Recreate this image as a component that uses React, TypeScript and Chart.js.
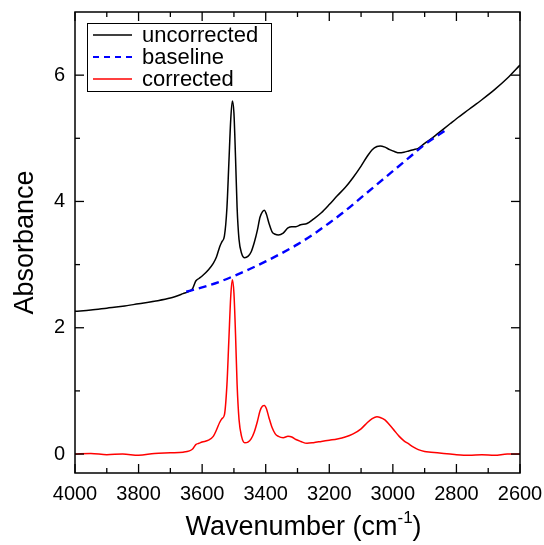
import React, { useEffect, useRef } from "react";
import { Chart, registerables } from "chart.js";

Chart.register(...registerables);

const wavenumbers = [
  4000, 3950, 3900, 3850, 3800, 3750, 3700, 3660, 3640, 3630, 3620, 3610, 3600, 3580, 3565, 3555, 3545, 3538, 3530, 3522,
  3516, 3510, 3505, 3500, 3495, 3490, 3484, 3476, 3466, 3456, 3446, 3436, 3426, 3418, 3410, 3404, 3398, 3390, 3380, 3370,
  3360, 3345, 3330, 3318, 3305, 3290, 3270, 3250, 3225, 3200, 3175, 3150, 3125, 3100, 3080, 3065, 3050, 3040, 3025, 3010,
  2995, 2980, 2965, 2950, 2935, 2920, 2900, 2880, 2860, 2840, 2820, 2800, 2760, 2720, 2680, 2640, 2600,
];

const uncorrected = [
  2.26, 2.28, 2.31, 2.34, 2.38, 2.42, 2.47, 2.54, 2.58, 2.62, 2.74, 2.78, 2.82, 2.92, 3.02, 3.12, 3.28, 3.36, 3.45, 3.9,
  4.6, 5.3, 5.59, 5.4, 4.7, 3.9, 3.4, 3.18, 3.11, 3.13, 3.2, 3.35, 3.55, 3.75, 3.84, 3.86, 3.8, 3.66, 3.52, 3.48,
  3.47, 3.5, 3.58, 3.6, 3.6, 3.63, 3.65, 3.72, 3.82, 3.95, 4.09, 4.22, 4.38, 4.56, 4.72, 4.82, 4.87, 4.88, 4.86, 4.82,
  4.79, 4.77, 4.78, 4.8, 4.82, 4.84, 4.92, 4.99, 5.07, 5.15, 5.23, 5.31, 5.46, 5.61, 5.77, 5.95, 6.16,
];

const corrected = [
  0.0, 0.01, -0.01, 0.0, -0.02, 0.01, 0.02, 0.03, 0.05, 0.08, 0.15, 0.17, 0.19, 0.22, 0.28, 0.38, 0.5, 0.56, 0.62, 1.1,
  1.8, 2.5, 2.76, 2.55, 1.9, 1.1, 0.55, 0.28, 0.18, 0.19, 0.24, 0.35, 0.52, 0.68, 0.76, 0.77, 0.72, 0.58, 0.42, 0.32,
  0.28, 0.26, 0.28, 0.27, 0.23, 0.2, 0.17, 0.18, 0.2, 0.22, 0.24, 0.27, 0.32, 0.4, 0.5, 0.56, 0.59, 0.58, 0.54, 0.46,
  0.37, 0.28, 0.21, 0.16, 0.11, 0.07, 0.04, 0.03, 0.02, 0.01, 0.0, -0.01, -0.02, -0.01, -0.02, 0.0, 0.0,
];

const baselineWavenumbers = [
  3650, 3600, 3550, 3500, 3450, 3400, 3350, 3300, 3250, 3200, 3150, 3100, 3050, 3000, 2950, 2900, 2860, 2830,
];
const baseline = [
  2.57, 2.64, 2.72, 2.82, 2.93, 3.05, 3.18, 3.32, 3.48, 3.66, 3.85, 4.06, 4.27, 4.48, 4.69, 4.9, 5.04, 5.14,
];

const xMajorTicks = [4000, 3800, 3600, 3400, 3200, 3000, 2800, 2600];
const xMinorTicks = [3900, 3700, 3500, 3300, 3100, 2900, 2700];
const yMajorTicks = [0, 2, 4, 6];
const yMinorTicks = [1, 3, 5];

const seriesNames = ["uncorrected", "baseline", "corrected"];
const seriesColors = ["#000000", "#0000ff", "#ff0000"];

const FONT = "Arial, 'Liberation Sans', sans-serif";

const framePlugin = {
  id: "frameAndLegend",
  afterDraw(chart: any) {
    const { ctx, chartArea } = chart;
    const { left, right, top, bottom } = chartArea;
    const xs = chart.scales.x;
    const ys = chart.scales.y;
    ctx.save();
    ctx.strokeStyle = "#000";
    ctx.lineWidth = 1.5;
    ctx.strokeRect(left, top, right - left, bottom - top);
    ctx.lineWidth = 1.3;
    const tick = (x1: number, y1: number, x2: number, y2: number) => {
      ctx.beginPath();
      ctx.moveTo(x1, y1);
      ctx.lineTo(x2, y2);
      ctx.stroke();
    };
    xMajorTicks.forEach((v) => {
      const px = xs.getPixelForValue(v);
      tick(px, bottom, px, bottom - 9);
      tick(px, top, px, top + 9);
    });
    xMinorTicks.forEach((v) => {
      const px = xs.getPixelForValue(v);
      tick(px, bottom, px, bottom - 5);
      tick(px, top, px, top + 5);
    });
    yMajorTicks.forEach((v) => {
      const py = ys.getPixelForValue(v);
      tick(left, py, left + 9, py);
      tick(right, py, right - 9, py);
    });
    yMinorTicks.forEach((v) => {
      const py = ys.getPixelForValue(v);
      tick(left, py, left + 5, py);
      tick(right, py, right - 5, py);
    });

    // legend
    const lx = left + 12;
    const ly = top + 11;
    const lw = 184;
    const lh = 68;
    ctx.fillStyle = "#fff";
    ctx.fillRect(lx, ly, lw, lh);
    ctx.lineWidth = 1;
    ctx.strokeStyle = "#000";
    ctx.strokeRect(lx + 0.5, ly + 0.5, lw, lh);
    ctx.font = `22px ${FONT}`;
    ctx.textBaseline = "middle";
    ctx.textAlign = "left";
    seriesNames.forEach((name, i) => {
      const yy = ly + 12 + i * 22;
      ctx.strokeStyle = seriesColors[i];
      ctx.lineWidth = i === 1 ? 2 : 1.5;
      ctx.setLineDash(i === 1 ? [6, 5] : []);
      ctx.beginPath();
      ctx.moveTo(lx + 6, yy);
      ctx.lineTo(lx + 45, yy);
      ctx.stroke();
      ctx.setLineDash([]);
      ctx.fillStyle = "#000";
      ctx.fillText(name, lx + 55, yy + 1);
    });

    // x title with superscript
    const cx = (left + right) / 2 + 6;
    const baseY = 535;
    ctx.font = `27px ${FONT}`;
    const main = "Wavenumber (cm";
    const sup = "-1";
    const close = ")";
    const wMain = ctx.measureText(main).width;
    const wClose = ctx.measureText(close).width;
    ctx.font = `17px ${FONT}`;
    const wSup = ctx.measureText(sup).width;
    const total = wMain + wSup + wClose;
    let x0 = cx - total / 2;
    ctx.fillStyle = "#000";
    ctx.textBaseline = "alphabetic";
    ctx.font = `27px ${FONT}`;
    ctx.fillText(main, x0, baseY);
    x0 += wMain;
    ctx.font = `17px ${FONT}`;
    ctx.fillText(sup, x0, baseY - 12);
    x0 += wSup;
    ctx.font = `27px ${FONT}`;
    ctx.fillText(close, x0, baseY);

    // y title
    ctx.save();
    ctx.translate(33, (top + bottom) / 2);
    ctx.rotate(-Math.PI / 2);
    ctx.textAlign = "center";
    ctx.textBaseline = "alphabetic";
    ctx.font = `27px ${FONT}`;
    ctx.fillText("Absorbance", 0, 0);
    ctx.restore();

    ctx.restore();
  },
};

export default function App() {
  const canvasRef = useRef<HTMLCanvasElement | null>(null);

  useEffect(() => {
    if (!canvasRef.current) return;
    const chart = new Chart(canvasRef.current, {
      type: "line",
      data: {
        datasets: [
          {
            label: seriesNames[0],
            data: wavenumbers.map((w, i) => ({ x: w, y: uncorrected[i] })),
            borderColor: seriesColors[0],
            borderWidth: 1.5,
            pointRadius: 0,
            cubicInterpolationMode: "monotone",
            order: 2,
          },
          {
            label: seriesNames[1],
            data: baselineWavenumbers.map((w, i) => ({ x: w, y: baseline[i] })),
            borderColor: seriesColors[1],
            borderWidth: 2.4,
            borderDash: [8, 5],
            pointRadius: 0,
            cubicInterpolationMode: "monotone",
            order: 1,
          },
          {
            label: seriesNames[2],
            data: wavenumbers.map((w, i) => ({ x: w, y: corrected[i] })),
            borderColor: seriesColors[2],
            borderWidth: 1.5,
            pointRadius: 0,
            cubicInterpolationMode: "monotone",
            order: 3,
          },
        ],
      },
      options: {
        animation: false,
        responsive: true,
        maintainAspectRatio: false,
        layout: { padding: { top: 12, right: 24, left: 0, bottom: 0 } },
        plugins: { legend: { display: false }, tooltip: { enabled: false } },
        scales: {
          x: {
            type: "linear",
            reverse: true,
            min: 2600,
            max: 4000,
            grid: { display: false, drawTicks: false },
            border: { display: false },
            afterBuildTicks: (s: any) => {
              s.ticks = xMajorTicks.map((v) => ({ value: v }));
            },
            afterFit: (s: any) => {
              s.height = 72;
              s.paddingLeft = 0;
              s.paddingRight = 0;
            },
            ticks: {
              padding: 9,
              color: "#000",
              font: { size: 20, family: FONT },
              maxRotation: 0,
              autoSkip: false,
              callback: (v: any) => String(v),
            },
          },
          y: {
            type: "linear",
            min: -0.3,
            max: 7,
            grid: { display: false, drawTicks: false },
            border: { display: false },
            afterBuildTicks: (s: any) => {
              s.ticks = yMajorTicks.map((v) => ({ value: v }));
            },
            afterFit: (s: any) => {
              s.width = 75;
              s.paddingTop = 0;
              s.paddingBottom = 0;
            },
            ticks: {
              padding: 10,
              color: "#000",
              font: { size: 20, family: FONT },
              callback: (v: any) => String(v),
            },
          },
        },
      },
      plugins: [framePlugin],
    } as any);
    return () => chart.destroy();
  }, []);

  return (
    <div style={{ position: "fixed", left: 0, top: 0, width: 544, height: 545, background: "#fff" }}>
      <canvas ref={canvasRef} />
    </div>
  );
}
